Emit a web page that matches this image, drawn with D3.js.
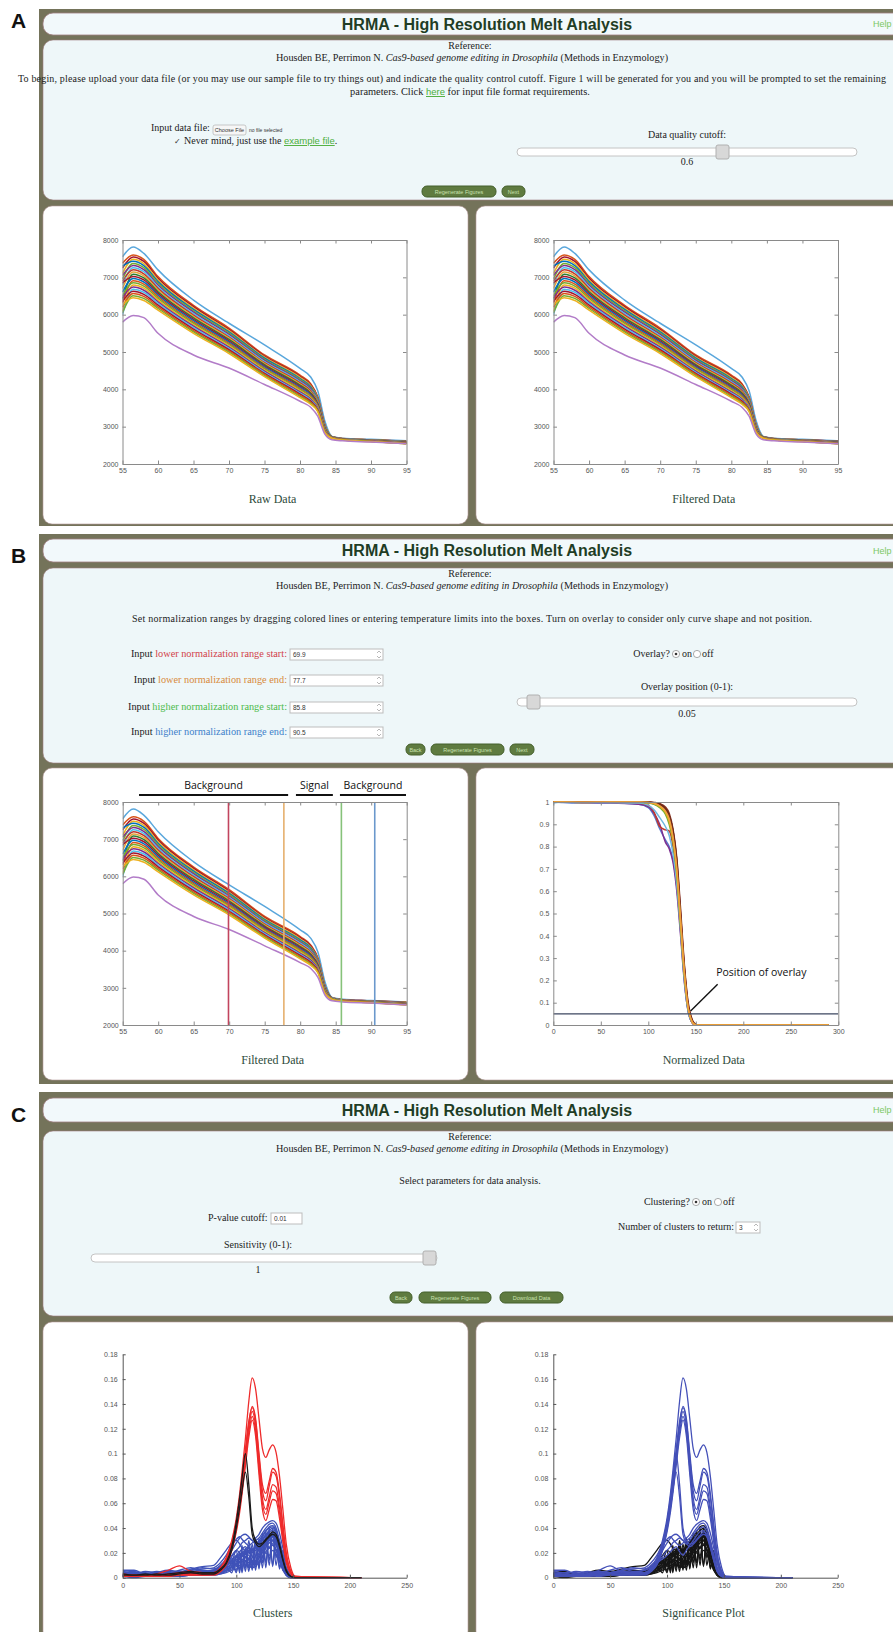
<!DOCTYPE html>
<html>
<head>
<meta charset="utf-8">
<script src="https://cdn.jsdelivr.net/npm/d3@7"></script>
<style>
  body { margin: 0; background: #fff; }
</style>
</head>
<body>
<div id="wrapper"></div>
<script>
// ---- data ----
const meltTemps = [55, 56.5, 58, 60, 65, 70, 75, 80, 81.5, 82.5, 83.5, 84.5, 86, 90, 95];
const meltCurves = [
  [7550, 7810, 7640, 7200, 6390, 5770, 5190, 4560, 4330, 3960, 3150, 2740, 2690, 2660, 2620],
  [7380, 7600, 7480, 7020, 6250, 5640, 4920, 4380, 4150, 3800, 3050, 2730, 2680, 2650, 2610],
  [7250, 7545, 7425, 6975, 6215, 5605, 4890, 4350, 4125, 3780, 3040, 2728, 2678, 2648, 2607],
  [7100, 7485, 7370, 6930, 6175, 5570, 4860, 4320, 4095, 3760, 3030, 2726, 2676, 2645, 2603],
  [7300, 7430, 7315, 6885, 6140, 5540, 4835, 4290, 4070, 3740, 3020, 2724, 2674, 2643, 2600],
  [6950, 7370, 7260, 6840, 6100, 5505, 4805, 4260, 4040, 3720, 3010, 2722, 2672, 2640, 2596],
  [7050, 7315, 7205, 6795, 6065, 5470, 4775, 4230, 4015, 3700, 3000, 2720, 2670, 2638, 2593],
  [6800, 7255, 7150, 6750, 6025, 5435, 4745, 4200, 3985, 3680, 2990, 2718, 2668, 2635, 2589],
  [6900, 7200, 7095, 6705, 5990, 5400, 4715, 4170, 3960, 3660, 2980, 2716, 2666, 2633, 2586],
  [6700, 7140, 7040, 6660, 5950, 5370, 4690, 4140, 3930, 3640, 2970, 2714, 2664, 2630, 2582],
  [6400, 7085, 6985, 6615, 5915, 5335, 4660, 4110, 3905, 3620, 2960, 2712, 2662, 2628, 2579],
  [6850, 7025, 6930, 6570, 5875, 5300, 4630, 4080, 3875, 3600, 2950, 2710, 2660, 2625, 2575],
  [6600, 6970, 6875, 6525, 5840, 5265, 4600, 4050, 3850, 3580, 2940, 2708, 2658, 2623, 2572],
  [6300, 6910, 6820, 6480, 5800, 5230, 4570, 4020, 3820, 3560, 2930, 2706, 2656, 2620, 2568],
  [6500, 6855, 6765, 6435, 5765, 5200, 4545, 3990, 3795, 3540, 2920, 2704, 2654, 2618, 2565],
  [6100, 6795, 6710, 6390, 5725, 5165, 4515, 3960, 3765, 3520, 2910, 2702, 2652, 2615, 2561],
  [6450, 6740, 6655, 6345, 5690, 5130, 4485, 3930, 3740, 3500, 2900, 2700, 2650, 2613, 2558],
  [6000, 6680, 6600, 6300, 5650, 5095, 4455, 3900, 3710, 3480, 2890, 2698, 2648, 2610, 2554],
  [6350, 6625, 6545, 6255, 5615, 5060, 4425, 3870, 3685, 3460, 2880, 2696, 2646, 2608, 2551],
  [6200, 6565, 6490, 6210, 5575, 5030, 4400, 3840, 3655, 3440, 2870, 2694, 2644, 2605, 2547],
  [6050, 6510, 6435, 6165, 5540, 4995, 4370, 3810, 3630, 3420, 2860, 2692, 2642, 2603, 2544],
  [6250, 6450, 6380, 6120, 5500, 4960, 4340, 3780, 3600, 3400, 2850, 2690, 2640, 2600, 2540],
  [5800, 5980, 5920, 5500, 4920, 4570, 4130, 3680, 3520, 3280, 2800, 2650, 2620, 2590, 2540]
];
const meltColors = ["#5aa7dc", "#d95319", "#a2142f", "#edb120", "#0072bd", "#77ac30", "#7e2f8e",
  "#4dbeee", "#c0392b", "#e8a33a", "#2e7d32", "#a2142f", "#0072bd", "#d95319", "#77ac30",
  "#edb120", "#7e2f8e", "#4dbeee", "#a2142f", "#d95319", "#77ac30", "#edb120", "#b27cc8"];
const meltXTicks = [55, 60, 65, 70, 75, 80, 85, 90, 95];
const meltYTicks = [2000, 3000, 4000, 5000, 6000, 7000, 8000];

const normRangeTemps = [69.9, 77.7, 85.8, 90.5];
const normRangeColors = ["#c2455e", "#e6b06e", "#86c27a", "#6b98cc"];
const regionLabels = ["Background", "Signal", "Background"];
const regionStart = [57.3, 79.4, 85.6];
const regionEnd = [78.3, 84.6, 94.9];

const normX = [0, 10, 30, 60, 90, 100, 106, 112, 118, 122, 126, 130, 134, 138, 142, 145, 148, 152, 200, 290];
const normCurves = [
  [1, 1, 1, 1, 1, 0.999, 0.996, 0.988, 0.965, 0.93, 0.86, 0.72, 0.48, 0.24, 0.08, 0.03, 0.006, 0, 0, 0],
  [1, 1, 1, 1, 1, 0.999, 0.997, 0.99, 0.972, 0.94, 0.87, 0.74, 0.5, 0.26, 0.09, 0.035, 0.008, 0, 0, 0],
  [1, 1, 1, 1, 0.999, 0.997, 0.992, 0.98, 0.955, 0.915, 0.83, 0.68, 0.45, 0.22, 0.07, 0.025, 0.005, 0, 0, 0],
  [1, 1, 1, 1, 1, 0.998, 0.993, 0.982, 0.958, 0.92, 0.84, 0.7, 0.46, 0.23, 0.075, 0.027, 0.005, 0, 0, 0],
  [1, 0.998, 0.995, 0.995, 0.99, 0.975, 0.94, 0.88, 0.83, 0.8, 0.74, 0.62, 0.42, 0.2, 0.06, 0.02, 0.003, 0, 0, 0],
  [1, 1, 0.997, 0.996, 0.99, 0.98, 0.95, 0.9, 0.82, 0.79, 0.73, 0.6, 0.4, 0.19, 0.06, 0.018, 0.002, 0, 0, 0],
  [1, 1, 1, 0.998, 0.995, 0.985, 0.955, 0.89, 0.875, 0.87, 0.8, 0.65, 0.43, 0.21, 0.065, 0.02, 0.003, 0, 0, 0],
  [0.995, 1, 0.998, 0.997, 0.995, 0.985, 0.965, 0.93, 0.89, 0.85, 0.77, 0.63, 0.42, 0.2, 0.06, 0.02, 0.003, 0, 0, 0],
  [1, 1, 1, 1, 0.999, 0.996, 0.99, 0.975, 0.945, 0.9, 0.82, 0.67, 0.44, 0.22, 0.07, 0.025, 0.004, 0, 0, 0],
  [1, 1, 1, 1, 1, 1, 0.998, 0.993, 0.978, 0.95, 0.88, 0.75, 0.52, 0.27, 0.1, 0.04, 0.01, 0, 0, 0],
  [1, 1, 1, 1, 1, 0.999, 0.997, 0.99, 0.97, 0.94, 0.87, 0.73, 0.49, 0.25, 0.085, 0.032, 0.007, 0, 0, 0],
  [1, 1, 0.998, 1, 1, 0.998, 0.993, 0.98, 0.955, 0.915, 0.835, 0.69, 0.46, 0.23, 0.075, 0.026, 0.005, 0, 0, 0],
  [1, 1, 1, 1, 1, 0.998, 0.994, 0.983, 0.96, 0.925, 0.845, 0.7, 0.47, 0.235, 0.075, 0.026, 0.004, 0, 0, 0]
];
const normColors = ["#8e2a2a", "#7a2620", "#93302a", "#a2142f", "#5577cc", "#7e2f8e", "#c0392b",
  "#6fb8e0", "#77ac30", "#8a3322", "#6b2a1a", "#edb120", "#f0a040"];
const overlayPosition = 0.05;
const normXTicks = [0, 50, 100, 150, 200, 250, 300];
const normYTicks = [0, 0.1, 0.2, 0.3, 0.4, 0.5, 0.6, 0.7, 0.8, 0.9, 1];
const normYLabels = ["0", "0.1", "0.2", "0.3", "0.4", "0.5", "0.6", "0.7", "0.8", "0.9", "1"];

const derivX = [0, 10, 20, 30, 40, 50, 60, 70, 80, 86, 91, 96, 100, 103, 105, 108, 111, 114, 117, 120,
  123, 126, 129, 132, 135, 138, 141, 144, 148, 152, 210];
const blueCurves = [
  [.006, .006, .003, .005, .004, .006, .008, .005, .006, .01, .015, .022, .028, .032, .034, .035, .033, .03, .032, .035, .04, .043, .045, .046, .044, .036, .024, .012, .004, 0, 0],
  [.005, .004, .004, .003, .005, .004, .006, .007, .008, .012, .018, .026, .031, .033, .031, .028, .026, .028, .03, .032, .036, .04, .043, .044, .04, .03, .018, .008, .002, 0, 0],
  [.004, .005, .002, .004, .006, .005, .007, .009, .01, .016, .022, .028, .03, .027, .024, .022, .02, .022, .025, .028, .033, .037, .041, .042, .038, .028, .017, .007, .002, 0, 0],
  [.003, .002, .003, .002, .004, .003, .005, .004, .006, .008, .012, .017, .022, .025, .028, .03, .032, .03, .027, .03, .034, .038, .04, .041, .037, .029, .018, .008, .002, 0, 0],
  [.002, .003, .002, .004, .003, .005, .004, .003, .005, .007, .01, .014, .017, .019, .02, .022, .024, .022, .025, .028, .031, .035, .038, .04, .035, .025, .015, .006, .001, 0, 0],
  [.004, .003, .005, .004, .003, .004, .006, .008, .007, .009, .012, .015, .018, .021, .023, .025, .021, .018, .022, .026, .03, .034, .037, .038, .033, .024, .014, .005, .001, 0, 0],
  [.001, .002, .001, .002, .002, .003, .002, .003, .004, .006, .008, .011, .013, .015, .017, .019, .02, .017, .015, .02, .025, .03, .034, .036, .032, .022, .012, .004, .001, 0, 0],
  [.003, .002, .003, .003, .002, .004, .005, .006, .005, .008, .011, .013, .016, .018, .019, .02, .018, .014, .012, .016, .022, .027, .031, .033, .03, .021, .011, .004, .001, 0, 0],
  [.002, .001, .002, .001, .003, .002, .003, .004, .004, .005, .007, .009, .011, .013, .014, .016, .015, .013, .018, .023, .027, .029, .033, .035, .031, .023, .013, .005, .001, 0, 0],
  [.001, .001, .001, .002, .001, .002, .002, .002, .003, .004, .006, .008, .01, .012, .013, .014, .012, .009, .011, .016, .02, .025, .028, .03, .027, .019, .01, .003, 0, 0, 0],
  [.002, .002, .002, .001, .002, .003, .003, .004, .005, .007, .01, .012, .014, .016, .018, .017, .014, .01, .013, .018, .024, .029, .032, .034, .031, .022, .012, .004, .001, 0, 0],
  [.001, 0, .001, .001, .001, .001, .002, .002, .002, .003, .005, .007, .009, .01, .011, .012, .01, .008, .009, .013, .017, .021, .024, .026, .023, .016, .008, .002, 0, 0, 0],
  [.002, .002, .001, .002, .002, .002, .003, .003, .003, .005, .008, .01, .012, .013, .015, .014, .012, .016, .02, .017, .022, .028, .024, .03, .026, .02, .009, .003, 0, 0, 0],
  [.001, .001, .002, .001, .002, .002, .002, .003, .003, .004, .006, .009, .011, .013, .01, .013, .016, .012, .017, .022, .018, .024, .03, .027, .022, .014, .007, .002, 0, 0, 0],
  [.003, .004, .003, .003, .004, .003, .004, .005, .006, .009, .013, .018, .022, .02, .017, .021, .025, .02, .024, .03, .026, .032, .036, .033, .028, .02, .01, .003, 0, 0, 0],
  [.001, .001, .001, .001, .001, .002, .002, .002, .002, .003, .004, .006, .007, .008, .009, .011, .008, .01, .014, .012, .016, .02, .018, .022, .019, .013, .006, .002, 0, 0, 0],
  [.002, .001, .002, .002, .001, .002, .002, .003, .003, .005, .008, .012, .022, .006, .026, .008, .03, .01, .032, .008, .036, .012, .04, .01, .038, .008, .022, .005, .001, 0, 0],
  [.001, .002, .001, .001, .002, .002, .003, .002, .004, .006, .009, .004, .018, .004, .022, .005, .026, .006, .03, .007, .034, .008, .037, .009, .034, .007, .018, .003, .001, 0, 0],
  [.003, .002, .002, .003, .002, .003, .003, .004, .004, .007, .011, .016, .005, .02, .006, .024, .008, .027, .01, .031, .012, .036, .014, .04, .016, .03, .008, .006, .001, 0, 0],
  [.002, .002, .003, .002, .002, .003, .002, .003, .005, .006, .01, .014, .004, .017, .004, .021, .005, .024, .006, .028, .008, .032, .01, .036, .01, .026, .006, .004, .001, 0, 0],
  [.001, .001, .001, .002, .002, .001, .002, .002, .003, .004, .006, .009, .015, .012, .02, .016, .022, .02, .026, .022, .03, .026, .034, .03, .032, .024, .015, .005, .001, 0, 0],
  [.002, .003, .002, .002, .003, .002, .004, .003, .004, .006, .009, .013, .01, .016, .012, .019, .015, .022, .018, .025, .02, .028, .024, .03, .022, .018, .008, .003, 0, 0, 0]
];
const redCurves = [
  [.003, .002, .002, .003, .006, .0095, .005, .004, .004, .008, .016, .03, .048, .068, .085, .112, .142, .161, .152, .128, .104, .097, .103, .107, .101, .082, .055, .027, .008, .001, 0],
  [.002, .001, .002, .002, .003, .004, .005, .004, .003, .006, .012, .025, .042, .06, .076, .1, .124, .138, .128, .1, .075, .068, .078, .088, .085, .068, .043, .02, .005, .001, 0],
  [.001, .002, .001, .002, .002, .003, .003, .003, .004, .007, .014, .028, .045, .063, .078, .103, .126, .137, .126, .097, .07, .062, .074, .085, .082, .065, .04, .018, .005, .001, 0],
  [.002, .002, .001, .001, .002, .003, .002, .003, .003, .006, .012, .025, .041, .058, .073, .098, .121, .134, .122, .092, .064, .055, .065, .075, .073, .057, .035, .015, .004, 0, 0],
  [.001, .001, .002, .001, .002, .002, .003, .002, .003, .005, .011, .023, .039, .056, .07, .094, .117, .13, .118, .088, .06, .051, .061, .07, .068, .053, .032, .014, .004, 0, 0],
  [.001, .001, .001, .002, .001, .002, .002, .002, .002, .005, .01, .022, .037, .053, .067, .09, .113, .127, .114, .083, .055, .046, .055, .063, .062, .048, .029, .012, .003, 0, 0]
];
const blackCurves = [
  [.003, .002, .003, .002, .003, .004, .005, .004, .004, .007, .012, .025, .045, .065, .08, .1, .075, .04, .03, .027, .028, .031, .034, .037, .035, .027, .015, .006, .001, 0, 0],
  [.002, .002, .002, .003, .002, .003, .004, .003, .003, .006, .011, .022, .04, .057, .07, .085, .065, .035, .028, .025, .027, .03, .033, .035, .033, .025, .014, .005, .001, 0, 0]
];
// which blue-cluster curves are significant (blue in the significance plot)
const blueSignificant = [true, true, false, true, false, true, false, false, false, false, false,
  false, false, false, false, false, false, false, false, false, false, false];
const derivXTicks = [0, 50, 100, 150, 200, 250];
const derivYTicks = [0, 0.02, 0.04, 0.06, 0.08, 0.1, 0.12, 0.14, 0.16, 0.18];
const derivYLabels = ["0", "0.02", "0.04", "0.06", "0.08", "0.1", "0.12", "0.14", "0.16", "0.18"];

// ---- page ----
const serif = "'Liberation Serif', 'Times New Roman', serif";
const sans = "'Liberation Sans', Arial, sans-serif";
const myriad = "'Open Sans', 'Noto Sans', sans-serif";
const olive = "#74735a";

const svg = d3.select("#wrapper")
  .append("svg")
    .attr("width", 893)
    .attr("height", 1632)
    .style("display", "block");

const panels = [
  { label: "A", top: 9, bottom: 526, header: [13, 35], form: [40, 200], charts: [206, 524], labelY: 28 },
  { label: "B", top: 534, bottom: 1084, header: [539, 562], form: [568, 763], charts: [768, 1080], labelY: 563 },
  { label: "C", top: 1092, bottom: 1640, header: [1098, 1122], form: [1131, 1316], charts: [1322, 1640], labelY: 1122 }
];

function txt(g, x, y, s, o = {}) {
  const t = g.append("text")
    .attr("x", x)
    .attr("y", y)
    .text(s)
    .attr("font-size", o.size || 10)
    .attr("fill", o.fill || "#222")
    .attr("text-anchor", o.anchor || "start")
    .attr("font-family", o.family || serif)
    .attr("font-style", o.style || null)
    .attr("font-weight", o.weight || null);
  if (o.length) t.attr("textLength", o.length).attr("lengthAdjust", "spacing");
  return t;
}

function mixed(g, x, y, parts, o = {}) {
  const t = g.append("text")
    .attr("x", x)
    .attr("y", y)
    .attr("font-size", o.size || 10)
    .attr("fill", "#222")
    .attr("text-anchor", o.anchor || "start")
    .attr("font-family", serif);
  parts.forEach(p => {
    t.append("tspan")
      .text(p.t)
      .attr("fill", p.fill || null)
      .attr("font-style", p.italic ? "italic" : null)
      .attr("font-family", p.family || null)
      .attr("font-size", p.size || null)
      .attr("text-decoration", p.link ? "underline" : null);
  });
  return t;
}

function button(g, x0, x1, y, label) {
  g.append("rect")
    .attr("x", x0).attr("y", y)
    .attr("width", x1 - x0).attr("height", 11)
    .attr("rx", 5)
    .attr("fill", "#5f7b40")
    .attr("stroke", "#45602c");
  txt(g, (x0 + x1) / 2, y + 7.5, label, { size: 5.5, fill: "#c9e2b0", anchor: "middle", family: sans });
}

function slider(g, x0, x1, y, thumbX) {
  g.append("rect")
    .attr("x", x0).attr("y", y)
    .attr("width", x1 - x0).attr("height", 8)
    .attr("rx", 4)
    .attr("fill", "#fff")
    .attr("stroke", "#c4c4c4");
  g.append("rect")
    .attr("x", thumbX).attr("y", y - 3)
    .attr("width", 13).attr("height", 14)
    .attr("rx", 2)
    .attr("fill", "#d8d8d8")
    .attr("stroke", "#b0b0b0");
}

function inputBox(g, x0, x1, y, value, spin) {
  g.append("rect")
    .attr("x", x0).attr("y", y)
    .attr("width", x1 - x0).attr("height", 11)
    .attr("fill", "#fff")
    .attr("stroke", "#bdbdbd");
  txt(g, x0 + 3, y + 8, value, { size: 6.5, fill: "#333", family: sans });
  if (spin) {
    g.append("path")
      .attr("d", `M${x1 - 6},${y + 4} l2,-2 l2,2 M${x1 - 6},${y + 7} l2,2 l2,-2`)
      .attr("fill", "none")
      .attr("stroke", "#999")
      .attr("stroke-width", 0.7);
  }
}

function radio(g, x, y, on) {
  g.append("circle").attr("cx", x).attr("cy", y).attr("r", 3.6)
    .attr("fill", "#fff").attr("stroke", "#888").attr("stroke-width", 0.7);
  if (on) g.append("circle").attr("cx", x).attr("cy", y).attr("r", 1.3).attr("fill", "#333");
}

function reference(g, y) {
  txt(g, 470, y, "Reference:", { anchor: "middle" });
  mixed(g, 472, y + 12, [
    { t: "Housden BE, Perrimon N. " },
    { t: "Cas9-based genome editing in Drosophila", italic: true },
    { t: " (Methods in Enzymology)" }
  ], { anchor: "middle", size: 10.2 });
}

// frames
panels.forEach(p => {
  const g = svg.append("g");
  g.append("rect")
    .attr("x", 39).attr("y", p.top)
    .attr("width", 860).attr("height", p.bottom - p.top)
    .attr("fill", olive);
  g.append("rect")
    .attr("x", 43).attr("y", p.header[0])
    .attr("width", 870).attr("height", p.header[1] - p.header[0])
    .attr("rx", 10)
    .attr("fill", "#f2f9fb")
    .attr("stroke", "#a07d80").attr("stroke-width", 0.8);
  g.append("rect")
    .attr("x", 43).attr("y", p.form[0])
    .attr("width", 870).attr("height", p.form[1] - p.form[0])
    .attr("rx", 10)
    .attr("fill", "#eef7f9")
    .attr("stroke", "#a07d80").attr("stroke-width", 0.6);
  [[43, 468], [476, 910]].forEach(([a, b]) => {
    g.append("rect")
      .attr("x", a).attr("y", p.charts[0])
      .attr("width", b - a).attr("height", p.charts[1] - p.charts[0])
      .attr("rx", 9)
      .attr("fill", "#fff")
      .attr("stroke", "#b59a9c").attr("stroke-width", 0.6);
  });
  const mid = (p.header[0] + p.header[1]) / 2;
  txt(g, 487, mid + 5.5, "HRMA - High Resolution Melt Analysis",
    { size: 16, weight: "bold", family: sans, fill: "#1f3d25", anchor: "middle" });
  txt(g, 873, mid + 3, "Help", { size: 9, family: sans, fill: "#7cc863" });
  txt(g, 11, p.labelY, p.label, { size: 21, weight: "bold", family: sans, fill: "#111" });
});

// ---- panel A form ----
const fa = svg.append("g");
reference(fa, 49);
txt(fa, 18, 82, "To begin, please upload your data file (or you may use our sample file to try things out) and indicate the quality control cutoff. Figure 1 will be generated for you and you will be prompted to set the remaining", { length: 868 });
mixed(fa, 470, 95, [
  { t: "parameters. Click " },
  { t: "here", fill: "#4cae3c", link: true, family: sans, size: 9.5 },
  { t: " for input file format requirements." }
], { anchor: "middle", size: 10.4 });
txt(fa, 151, 131, "Input data file:");
fa.append("rect").attr("x", 213).attr("y", 125).attr("width", 33).attr("height", 10)
  .attr("rx", 2).attr("fill", "#f6f6f6").attr("stroke", "#aaa").attr("stroke-width", 0.6);
txt(fa, 229.5, 132, "Choose File", { size: 5.5, family: sans, anchor: "middle", fill: "#333" });
txt(fa, 249, 132, "no file selected", { size: 5, family: sans, fill: "#333" });
txt(fa, 174, 144, "\u2713", { size: 8, family: "'DejaVu Sans', sans-serif", fill: "#333" });
mixed(fa, 184, 144, [
  { t: "Never mind, just use the " },
  { t: "example file", fill: "#4cae3c", link: true, family: sans, size: 9.5 },
  { t: "." }
]);
txt(fa, 687, 138, "Data quality cutoff:", { anchor: "middle" });
slider(fa, 517, 857, 148, 716);
txt(fa, 687, 165, "0.6", { anchor: "middle" });
button(fa, 422, 496, 186, "Regenerate Figures");
button(fa, 502, 525, 186, "Next");

// ---- panel B form ----
const fb = svg.append("g");
reference(fb, 577);
txt(fb, 132, 622, "Set normalization ranges by dragging colored lines or entering temperature limits into the boxes. Turn on overlay to consider only curve shape and not position.", { length: 680 });
const rowLabels = ["lower normalization range start:", "lower normalization range end:",
  "higher normalization range start:", "higher normalization range end:"];
const rowValues = ["69.9", "77.7", "85.8", "90.5"];
const rowColors = ["#d2424a", "#d88a3c", "#4cbb4c", "#3d7fca"];
const rowY = [657, 683, 710, 735];
rowLabels.forEach((l, i) => {
  mixed(fb, 287, rowY[i], [{ t: "Input " }, { t: l, fill: rowColors[i] }], { anchor: "end", size: 10.3 });
  inputBox(fb, 290, 383, rowY[i] - 8, rowValues[i], true);
});
txt(fb, 670, 657, "Overlay?", { anchor: "end" });
radio(fb, 676, 654, true);
txt(fb, 682, 657, "on");
radio(fb, 697, 654, false);
txt(fb, 702, 657, "off");
txt(fb, 687, 690, "Overlay position (0-1):", { anchor: "middle" });
slider(fb, 517, 857, 698, 527);
txt(fb, 687, 717, "0.05", { anchor: "middle" });
button(fb, 406, 425, 744, "Back");
button(fb, 431, 504, 744, "Regenerate Figures");
button(fb, 510, 534, 744, "Next");

// ---- panel C form ----
const fc = svg.append("g");
reference(fc, 1140);
txt(fc, 470, 1184, "Select parameters for data analysis.", { anchor: "middle" });
txt(fc, 690, 1205, "Clustering?", { anchor: "end" });
radio(fc, 696, 1202, true);
txt(fc, 702, 1205, "on");
radio(fc, 718, 1202, false);
txt(fc, 723, 1205, "off");
txt(fc, 208, 1221, "P-value cutoff:");
inputBox(fc, 271, 302, 1213, "0.01", false);
txt(fc, 618, 1230, "Number of clusters to return:");
inputBox(fc, 736, 760, 1222, "3", true);
txt(fc, 258, 1248, "Sensitivity (0-1):", { anchor: "middle" });
slider(fc, 91, 437, 1254, 423);
txt(fc, 258, 1273, "1", { anchor: "middle" });
button(fc, 390, 412, 1292, "Back");
button(fc, 419, 491, 1292, "Regenerate Figures");
button(fc, 500, 563, 1292, "Download Data");

// ---- charts ----
let clipId = 0;
function plotArea(box) {
  const id = "clip" + (clipId++);
  svg.append("clipPath").attr("id", id)
    .append("rect")
      .attr("x", box.x0).attr("y", box.y0 - 1)
      .attr("width", box.x1 - box.x0).attr("height", box.y1 - box.y0 + 2);
  return svg.append("g").attr("clip-path", `url(#${id})`);
}

function styleAxis(a, color) {
  a.selectAll(".domain").attr("stroke", color);
  a.selectAll(".tick line").attr("stroke", color);
  a.selectAll(".tick text")
    .attr("fill", "#555")
    .attr("font-size", 7)
    .attr("font-family", sans);
}

function boxedAxes(box, x, y, xTicks, yTicks, yLabels) {
  const g = svg.append("g");
  const grey = "#8a8a8a";
  const xb = g.append("g").attr("transform", `translate(0,${box.y1})`)
    .call(d3.axisBottom(x).tickValues(xTicks).tickSizeInner(-3.5).tickSizeOuter(0).tickPadding(4));
  const xt = g.append("g").attr("transform", `translate(0,${box.y0})`)
    .call(d3.axisTop(x).tickValues(xTicks).tickSizeInner(-3.5).tickSizeOuter(0).tickFormat(""));
  const yl = g.append("g").attr("transform", `translate(${box.x0},0)`)
    .call(d3.axisLeft(y).tickValues(yTicks).tickSizeInner(-3.5).tickSizeOuter(0).tickPadding(4)
      .tickFormat((d, i) => yLabels ? yLabels[i] : d));
  const yr = g.append("g").attr("transform", `translate(${box.x1},0)`)
    .call(d3.axisRight(y).tickValues(yTicks).tickSizeInner(-3.5).tickSizeOuter(0).tickFormat(""));
  [xb, xt, yl, yr].forEach(a => styleAxis(a, grey));
  return g;
}

function openAxes(box, x, y, xTicks, yTicks, yLabels) {
  const g = svg.append("g");
  const dark = "#555";
  const xb = g.append("g").attr("transform", `translate(0,${box.y1})`)
    .call(d3.axisBottom(x).tickValues(xTicks).tickSizeInner(-3).tickSizeOuter(0).tickPadding(5));
  const yl = g.append("g").attr("transform", `translate(${box.x0},0)`)
    .call(d3.axisLeft(y).tickValues(yTicks).tickSizeInner(-3).tickSizeOuter(0).tickPadding(5)
      .tickFormat((d, i) => yLabels[i]));
  [xb, yl].forEach(a => styleAxis(a, dark));
  return g;
}

function chartLabel(x, y, s) {
  txt(svg, x, y, s, { size: 12, fill: "#2e4b3b", anchor: "middle" });
}

function meltChart(box, label, labelY, withRanges) {
  const x = d3.scaleLinear().domain([55, 95]).range([box.x0, box.x1]);
  const y = d3.scaleLinear().domain([2000, 8000]).range([box.y1, box.y0]);
  const line = d3.line()
    .x((d, i) => x(meltTemps[i]))
    .y(d => y(d))
    .curve(d3.curveMonotoneX);
  const area = plotArea(box);
  area.selectAll("path")
    .data(meltCurves)
    .join("path")
      .attr("d", line)
      .attr("fill", "none")
      .attr("stroke", (d, i) => meltColors[i])
      .attr("stroke-width", 1.5);
  if (withRanges) {
    area.selectAll("line.range")
      .data(normRangeTemps)
      .join("line")
        .attr("class", "range")
        .attr("x1", d => x(d)).attr("x2", d => x(d))
        .attr("y1", box.y0).attr("y2", box.y1)
        .attr("stroke", (d, i) => normRangeColors[i])
        .attr("stroke-width", 1.6);
    const ann = svg.append("g");
    ann.selectAll("line")
      .data(regionLabels)
      .join("line")
        .attr("x1", (d, i) => x(regionStart[i]))
        .attr("x2", (d, i) => x(regionEnd[i]))
        .attr("y1", box.y0 - 7).attr("y2", box.y0 - 7)
        .attr("stroke", "#111")
        .attr("stroke-width", 2);
    ann.selectAll("text")
      .data(regionLabels)
      .join("text")
        .attr("x", (d, i) => (x(regionStart[i]) + x(regionEnd[i])) / 2)
        .attr("y", box.y0 - 13)
        .attr("text-anchor", "middle")
        .attr("font-family", myriad)
        .attr("font-size", 10.5)
        .attr("fill", "#111")
        .text(d => d);
  }
  boxedAxes(box, x, y, meltXTicks, meltYTicks, null);
  chartLabel((box.x0 + box.x1) / 2 + 8, labelY, label);
}

function normChart(box, label, labelY) {
  const x = d3.scaleLinear().domain([0, 300]).range([box.x0, box.x1]);
  const y = d3.scaleLinear().domain([0, 1]).range([box.y1, box.y0]);
  const line = d3.line()
    .x((d, i) => x(normX[i]))
    .y(d => y(d))
    .curve(d3.curveMonotoneX);
  const area = plotArea(box);
  area.selectAll("path")
    .data(normCurves)
    .join("path")
      .attr("d", line)
      .attr("fill", "none")
      .attr("stroke", (d, i) => normColors[i])
      .attr("stroke-width", 1.5);
  area.append("line")
    .attr("x1", x(0)).attr("x2", x(300))
    .attr("y1", y(overlayPosition)).attr("y2", y(overlayPosition))
    .attr("stroke", "#3d4760")
    .attr("stroke-width", 1.2);
  boxedAxes(box, x, y, normXTicks, normYTicks, normYLabels);
  // annotation
  svg.append("line")
    .attr("x1", x(173)).attr("y1", y(0.183))
    .attr("x2", x(144.5)).attr("y2", y(0.063))
    .attr("stroke", "#111").attr("stroke-width", 1.4);
  txt(svg, x(171.5), y(0.219), "Position of overlay", { size: 10.5, family: myriad, fill: "#111" });
  chartLabel((box.x0 + box.x1) / 2 + 8, labelY, label);
}

function derivChart(box, label, labelY, significance) {
  const x = d3.scaleLinear().domain([0, 250]).range([box.x0, box.x1]);
  const y = d3.scaleLinear().domain([0, 0.18]).range([box.y1, box.y0]);
  const line = d3.line()
    .x((d, i) => x(derivX[i]))
    .y(d => y(d))
    .curve(d3.curveMonotoneX);
  const area = plotArea(box);
  let groups;
  if (!significance) {
    groups = [
      { data: blueCurves, color: "#3f52b8" },
      { data: redCurves, color: "#ee2b2b" },
      { data: blackCurves, color: "#1b1b1b" }
    ];
  } else {
    groups = [
      { data: blueCurves.filter((d, i) => !blueSignificant[i]), color: "#161616" },
      { data: blueCurves.filter((d, i) => blueSignificant[i]).concat(redCurves, blackCurves), color: "#4450b8" }
    ];
  }
  groups.forEach(gr => {
    area.append("g")
      .selectAll("path")
      .data(gr.data)
      .join("path")
        .attr("d", line)
        .attr("fill", "none")
        .attr("stroke", gr.color)
        .attr("stroke-width", 1.3);
  });
  openAxes(box, x, y, derivXTicks, derivYTicks, derivYLabels);
  chartLabel((box.x0 + box.x1) / 2 + 8, labelY, label);
}

meltChart({ x0: 122.5, x1: 406.5, y0: 240, y1: 464 }, "Raw Data", 503, false);
meltChart({ x0: 553.5, x1: 838, y0: 240, y1: 464 }, "Filtered Data", 503, false);
meltChart({ x0: 122.7, x1: 406.7, y0: 802, y1: 1025 }, "Filtered Data", 1064, true);
normChart({ x0: 553.3, x1: 838.3, y0: 802, y1: 1025 }, "Normalized Data", 1064);
derivChart({ x0: 122.7, x1: 406.7, y0: 1354.3, y1: 1577.7 }, "Clusters", 1617, false);
derivChart({ x0: 553.3, x1: 837.7, y0: 1354.3, y1: 1577.7 }, "Significance Plot", 1617, true);
</script>
</body>
</html>
